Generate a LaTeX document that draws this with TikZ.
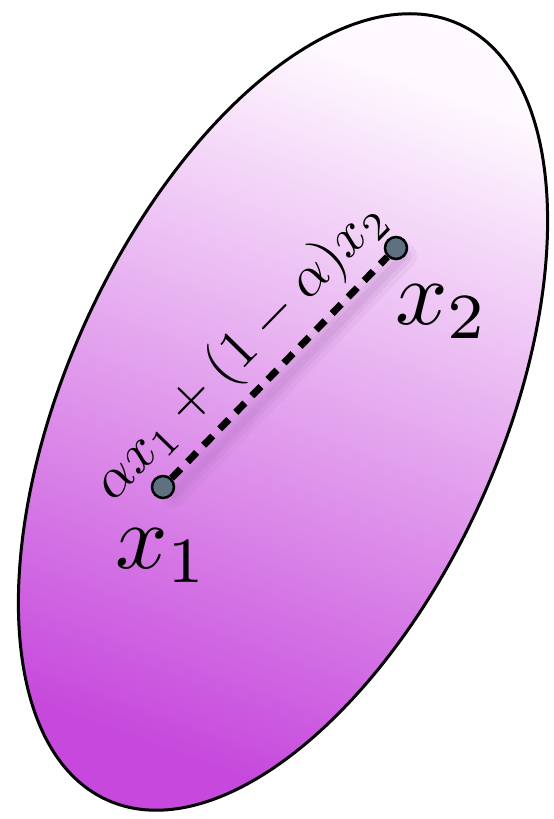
\documentclass[tikz,border=0pt]{standalone}
\usepackage{amsmath}
\definecolor{ellTop}{RGB}{255,250,255}
\definecolor{ellBot}{RGB}{198,72,220}
\definecolor{dotFill}{RGB}{95,112,128}
\definecolor{shadowCol}{RGB}{160,100,175}
\tikzset{
  setbody/.style={line width=3pt, draw=black, top color=ellTop, bottom color=ellBot, shading angle=-20},
  ptdot/.style={circle, draw=black, line width=2.5pt, fill=dotFill, minimum size=22pt, inner sep=0pt},
  ptlabel/.style={inner sep=0pt, scale=9.2},
  combo/.style={inner sep=0pt, anchor=base, scale=5.6},
  segdash/.style={line width=7pt, dash pattern=on 13pt off 10pt},
}
\begin{document}
\begin{tikzpicture}[x=1pt,y=1pt]
\useasboundingbox (0,0) rectangle (554,819);
\fill[white] (0,0) rectangle (554,819);
\path[setbody, rotate around={65.6:(283,407)}] (283,407) ellipse (426 and 217);
% shadow of the segment
\coordinate (s1) at (173,324);
\coordinate (s2) at (404,563);
\draw[shadowCol, line width=26pt, opacity=0.08, line cap=round] (s1) -- (s2);
\draw[shadowCol, line width=16pt, opacity=0.10, line cap=round] (s1) -- (s2);
\draw[shadowCol, line width=8pt, opacity=0.12, line cap=round] (s1) -- (s2);
\node[ptdot] (p1) at (163,332) {};
\node[ptdot] (p2) at (396,571) {};
\draw[segdash] (p1) -- (p2);
\node[ptlabel] (l1) at (162,263) {$x_1$};
\node[ptlabel] (l2) at (442,507) {$x_2$};
\node[combo, rotate=45.7] (lc) at (251,458) {$\alpha x_1+(1-\alpha)x_2$};
\end{tikzpicture}
\end{document}
